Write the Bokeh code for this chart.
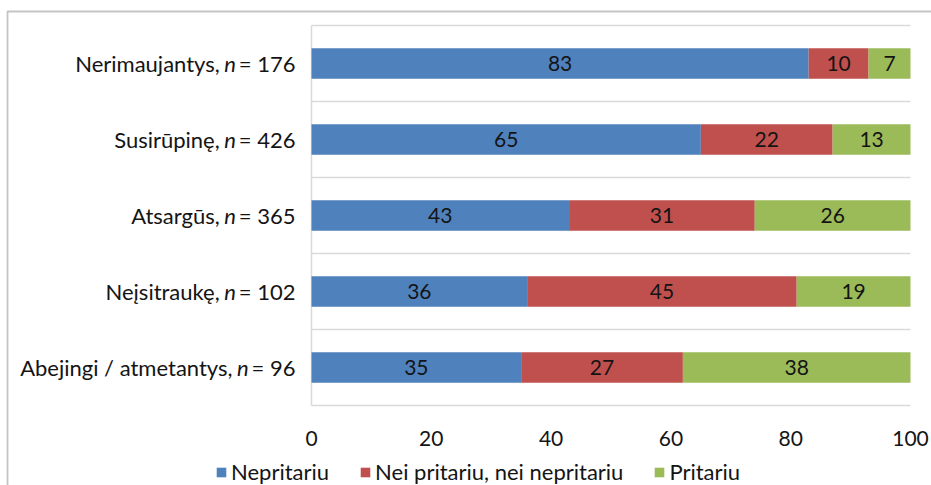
from bokeh.plotting import figure
from bokeh.models import ColumnDataSource, Range1d, FixedTicker, BoxAnnotation, Legend, LegendItem
from bokeh.core.properties import value
from bokeh.embed import file_html
from bokeh.resources import INLINE

# ---- data ----
groups = ["Nerimaujantys,", "Susirūpinę,", "Atsargūs,", "Neįsitraukę,", "Abejingi / atmetantys,"]
n_sizes = [176, 426, 365, 102, 96]
nepritariu = [83, 65, 43, 36, 35]
nei = [10, 22, 31, 45, 27]
pritariu = [7, 13, 26, 19, 38]
series_names = ["Nepritariu", "Nei pritariu, nei nepritariu", "Pritariu"]
x_ticks = [0, 20, 40, 60, 80, 100]

# ---- style / layout ----
colors = ["#4F81BD", "#C0504D", "#9BBB59"]
FONT = "Lato"
FS = 22            # category labels / legend
FSN = "21px"       # numbers (ticks, bar values)
FSPX = f"{FS}px"
W, H = 931, 485
PX0, PX100 = 311, 910          # pixel of x=0 and x=100
PTOP, BAND = 25, 76            # top of plot area, px per category
SX = (PX100 - PX0) / 100.0
x_lo = -PX0 / SX
x_hi = 100 + (W - PX100) / SX
y_top = -0.5 - PTOP / BAND
y_bot = -0.5 + (H - PTOP) / BAND
TXT = "#141414"

ADV = {"=": 0.58, " ": 0.193, "n": 0.545}
for d in "0123456789":
    ADV[d] = 0.58

def w(s):
    return sum(ADV.get(c, 0.55) for c in s) * FS

ys = list(range(len(groups)))
suffix = [f"= {n}" for n in n_sizes]
off_num = [-16.0 for _ in ys]
off_n = [o - w(s) - w(" ") for o, s in zip(off_num, suffix)]
off_main = [o - w("n") - w(" ") for o in off_n]

src = ColumnDataSource(dict(y=ys, a=nepritariu, b=nei, c=pritariu))

p = figure(width=W, height=H, x_range=Range1d(x_lo, x_hi), y_range=Range1d(y_bot, y_top),
           output_backend="svg", toolbar_location=None,
           min_border_left=0, min_border_right=0, min_border_top=0, min_border_bottom=0)
p.outline_line_color = None
p.background_fill_color = "white"
p.border_fill_color = "white"
p.xgrid.visible = False
p.ygrid.visible = False
p.yaxis.visible = False

# separators and left line of plot area
bounds = [i - 0.5 for i in ys] + [ys[-1] + 0.5]
p.segment(x0=[0] * len(bounds), y0=bounds, x1=[100] * len(bounds), y1=bounds,
          line_color="#d9d9d9", line_width=1.5)
p.segment(x0=[0], y0=[bounds[0]], x1=[0], y1=[bounds[-1]], line_color="#d9d9d9", line_width=1.5)

rs = p.hbar_stack(["a", "b", "c"], y="y", height=0.4, fill_color=colors, line_color=None, source=src)

# value labels inside segments
lx, ly, lt = [], [], []
for i in ys:
    start = 0
    for vals in (nepritariu, nei, pritariu):
        v = vals[i]
        lx.append(start + v / 2)
        ly.append(i)
        lt.append(str(v))
        start += v
p.text(x=lx, y=ly, text=lt, text_align="center", text_baseline="middle",
       text_font=value(FONT), text_font_size=FSN, text_color=TXT)

# category labels (with italic n)
zeros = [0] * len(ys)
p.text(x=zeros, y=ys, text=suffix, x_offset=off_num, text_align="right", text_baseline="middle",
       text_font=value(FONT), text_font_size=FSPX, text_color=TXT)
p.text(x=zeros, y=ys, text=["n"] * len(ys), x_offset=off_n, text_align="right", text_baseline="middle",
       text_font=value(FONT), text_font_size=FSPX, text_font_style="italic", text_color=TXT)
p.text(x=zeros, y=ys, text=groups, x_offset=off_main, text_align="right", text_baseline="middle",
       text_font=value(FONT), text_font_size=FSPX, text_color=TXT)

# x axis inside frame, fixed at bottom of plot area
xa = p.xaxis[0]
xa.fixed_location = bounds[-1]
xa.ticker = FixedTicker(ticks=x_ticks)
xa.axis_line_color = None
xa.major_tick_line_color = None
xa.minor_tick_line_color = None
xa.major_label_standoff = 19
xa.major_label_text_font = FONT
xa.major_label_text_font_size = FSN
xa.major_label_text_color = TXT

legend = Legend(items=[LegendItem(label=nm, renderers=[r]) for nm, r in zip(series_names, rs)],
                orientation="horizontal", location=(215, 0),
                glyph_width=12, glyph_height=12, label_standoff=4, spacing=30,
                padding=0, margin=0, border_line_color=None, background_fill_alpha=0,
                label_text_font=FONT, label_text_font_size=FSPX, label_text_color=TXT)
p.add_layout(legend, "center")

# outer chart border (extends past right/bottom edges like the reference)
p.add_layout(BoxAnnotation(left=x_lo + 7 / SX, right=x_hi + 10, top=y_top + 11 / BAND, bottom=y_bot + 1,
                           fill_alpha=0, line_color="#3a3a3a", line_width=1.8))

open("out.html", "w").write(file_html(p, INLINE))
